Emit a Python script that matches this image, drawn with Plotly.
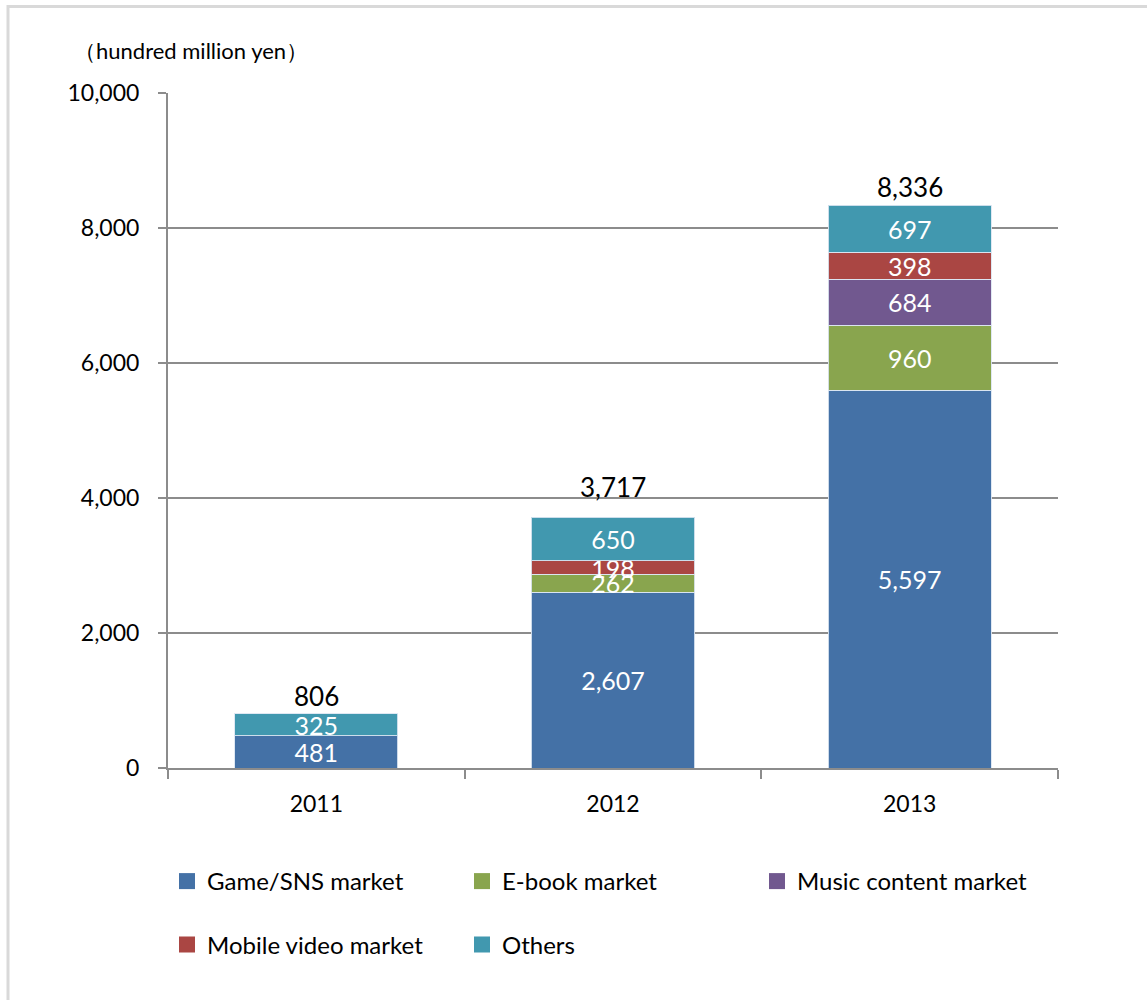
import plotly.graph_objects as go

years = ["2011", "2012", "2013"]
game_sns = [481, 2607, 5597]
ebook = [None, 262, 960]
music = [None, None, 684]
mobile_video = [None, 198, 398]
others = [325, 650, 697]

series_names = ["Game/SNS market", "E-book market", "Music content market",
                "Mobile video market", "Others"]
series_values = [game_sns, ebook, music, mobile_video, others]
series_colors = ["#4471A6", "#89A54E", "#71588F", "#AA4643", "#4198AF"]

totals = [sum(v[i] or 0 for v in series_values) for i in range(len(years))]

y_ticks = [0, 2000, 4000, 6000, 8000, 10000]
unit_label = "（hundred million yen）"

# style: vertical lift (px) of each total label above its bar
total_label_lift = [0, 12, 0]

FONT = "Lato"
W, H = 1147, 1000
L, R, T, B = 168, 89, 93, 232

fig = go.Figure()

for name, vals, col in zip(series_names, series_values, series_colors):
    fig.add_trace(go.Bar(
        x=years, y=vals, name=name,
        marker=dict(color=col, line=dict(color="rgba(220,230,242,0.9)", width=1)),
        texttemplate="%{y:,}", textposition="inside", insidetextanchor="middle",
        constraintext="none", cliponaxis=False,
        textfont=dict(family=FONT, size=25, color="white"),
        showlegend=False, hoverinfo="skip",
    ))

# legend entries (square markers) split into two rows
for i, (name, col) in enumerate(zip(series_names, series_colors)):
    fig.add_trace(go.Scatter(
        x=[None], y=[None], mode="markers", name=name,
        marker=dict(symbol="square", size=16, color=col, line=dict(width=0)),
        legend="legend" if i < 3 else "legend2",
        hoverinfo="skip",
    ))

legend_common = dict(
    orientation="h", xref="container", yref="container",
    xanchor="left", yanchor="middle", traceorder="normal",
    font=dict(family=FONT, size=24, color="black"),
    entrywidth=250, entrywidthmode="pixels",
    bgcolor="rgba(0,0,0,0)", itemsizing="trace",
)

annotations = [dict(
    text=unit_label, xref="paper", yref="paper",
    x=(72 - L) / (W - L - R), y=(H - B - 50) / (H - T - B),
    xanchor="left", yanchor="middle", showarrow=False,
    font=dict(family=FONT, size=22, color="black"),
)]
for idx, (tot, lift) in enumerate(zip(totals, total_label_lift)):
    annotations.append(dict(
        x=idx, y=tot, xref="x", yref="y", text=f"{tot:,}",
        showarrow=False, xanchor="center", yanchor="bottom", yshift=lift,
        font=dict(family=FONT, size=26, color="black"),
    ))

fig.update_layout(
    width=W, height=H,
    margin=dict(l=L, r=R, t=T, b=B),
    paper_bgcolor="white", plot_bgcolor="white",
    barmode="stack", bargap=0.45,
    font=dict(family=FONT, size=23, color="black"),
    legend=dict(x=167 / W, y=1 - 881.5 / H, **legend_common),
    legend2=dict(x=167 / W, y=1 - 945 / H, **legend_common),
    xaxis=dict(
        type="category", categoryorder="array", categoryarray=years,
        showline=True, linecolor="#8C8C8C", linewidth=2,
        ticks="outside", ticklen=9, tickwidth=2, tickcolor="#8C8C8C",
        tickson="boundaries", showgrid=False, ticklabelstandoff=14,
        tickfont=dict(family=FONT, size=23, color="black"),
    ),
    yaxis=dict(
        range=[0, 10000], tickvals=y_ticks, tickformat=",",
        showline=True, linecolor="#8C8C8C", linewidth=2,
        ticks="outside", ticklen=8, tickwidth=2, tickcolor="#8C8C8C",
        showgrid=True, gridcolor="#8C8C8C", gridwidth=2,
        zeroline=False, ticklabelstandoff=14,
        tickfont=dict(family=FONT, size=23, color="black"),
    ),
    annotations=annotations,
    shapes=[dict(
        type="rect", xref="paper", yref="paper", layer="below",
        x0=(8 - L) / (W - L - R), x1=(1165 - L) / (W - L - R),
        y0=(H - B - 1015) / (H - T - B), y1=(H - B - 6.5) / (H - T - B),
        line=dict(color="#D9D9D9", width=3),
    )],
)

fig.write_html("out.html", post_script="document.body.style.margin='0';",
               config={"displayModeBar": False})
